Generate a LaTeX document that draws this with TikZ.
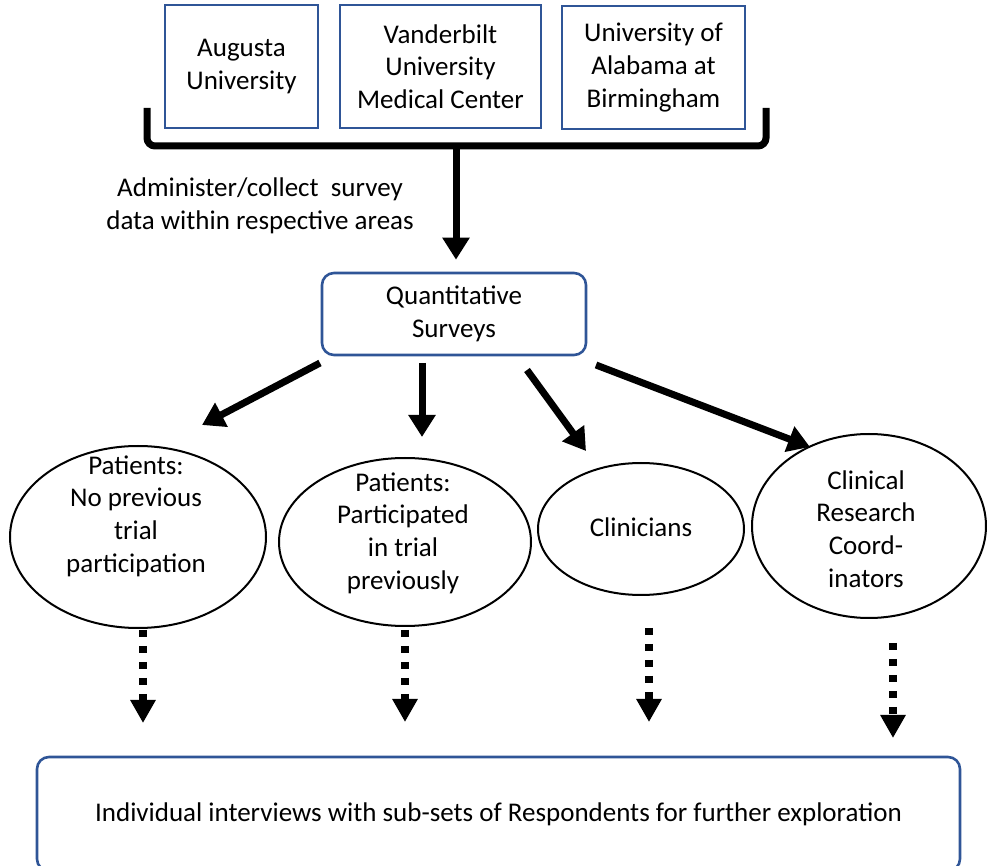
\documentclass[tikz,border=0pt]{standalone}
\usepackage{fontspec}
\setmainfont{Carlito}
\usetikzlibrary{arrows.meta,shapes.geometric}
\definecolor{boxblue}{RGB}{47,85,151}
\tikzset{
  sitebox/.style  = {shape=rectangle, draw=boxblue, line width=1.3pt,
                     align=center, inner sep=0pt, minimum height=61.5pt},
  roundbox/.style = {sitebox, rounded corners=6pt},
  oval/.style     = {shape=ellipse, draw, line width=1pt, inner sep=0pt},
  ovaltext/.style = {align=center, inner sep=0pt},
  bigarrow/.style = {line width=3.5pt, -{Triangle[length=11pt,width=13pt]}},
  dotarrow/.style = {line width=4pt, dash pattern=on 3.5pt off 4.5pt,
                     -{Triangle[length=11.5pt,width=12pt]}}
}

\begin{document}
\begin{tikzpicture}
 [x=0.5pt, y=-0.5pt,
  every node/.style={font=\fontsize{13.5}{16.3}\selectfont}]
  \useasboundingbox (0,0) rectangle (987,866);

  % sites
  \node [sitebox, minimum width=76.5pt]  (aug) at (241.5,66.5) {Augusta\\University};
  \node [sitebox, minimum width=100.5pt] (van) at (440.5,66.5) {Vanderbilt\\University\\Medical Center};
  \node [sitebox, minimum width=91.5pt]  (uab) at (653.5,67.5) {University of\\Alabama at\\Birmingham};

  % bracket
  \draw [line width=3.5pt, rounded corners=4pt]
    (147,108) -- (147,146) -- (766,146) -- (766,108);
  \coordinate (brk) at (456,146);

  \node [align=center, inner sep=0pt] (admin) at (260,206)
    {Administer/collect~ survey\\data within respective areas};

  % surveys
  \node [roundbox, minimum width=132pt, minimum height=41pt] (qs) at (454,314)
    {Quantitative\\Surveys};
  \draw [bigarrow, shorten >=6pt] (brk) -- (brk |- qs.north);

  % respondent groups
  \node [oval, minimum width=128pt, minimum height=91pt] (e1) at (138,537) {};
  \node [ovaltext] (t1) at (136,516) {Patients:\\No previous\\trial\\participation};
  \node [oval, minimum width=126pt, minimum height=84pt] (e2) at (405,542) {};
  \node [ovaltext] (t2) at (403,533) {Patients:\\Participated\\in trial\\previously};
  \node [oval, minimum width=103pt, minimum height=66pt] (e3) at (641,529) {};
  \node [ovaltext] (t3) at (641,527) {Clinicians};
  \node [oval, minimum width=117pt, minimum height=92pt] (e4) at (869,526) {};
  \node [ovaltext] (t4) at (866,529) {Clinical\\Research\\Coord-\\inators};

  \coordinate (q1) at (320,363); \coordinate (p1) at (202,425);
  \coordinate (q2) at (422,363); \coordinate (p2) at (422,437);
  \coordinate (q3) at (527,370); \coordinate (p3) at (586,451);
  \coordinate (q4) at (596,365); \coordinate (p4) at (810,447);
  \foreach \i in {1,...,4}
    \draw [bigarrow] (q\i) -- (p\i);

  % interviews
  \node [roundbox, minimum width=461.5pt, minimum height=57pt] (ib) at (498.5,814)
    {Individual interviews with sub-sets of Respondents for further exploration};

  \coordinate (r1) at (143,630); \coordinate (s1) at (143,723);
  \coordinate (r2) at (405,630); \coordinate (s2) at (405,722);
  \coordinate (r3) at (649,628); \coordinate (s3) at (649,722);
  \coordinate (r4) at (893,643); \coordinate (s4) at (893,738);
  \foreach \i in {1,...,4}
    \draw [dotarrow] (r\i) -- (s\i);
\end{tikzpicture}
\end{document}
